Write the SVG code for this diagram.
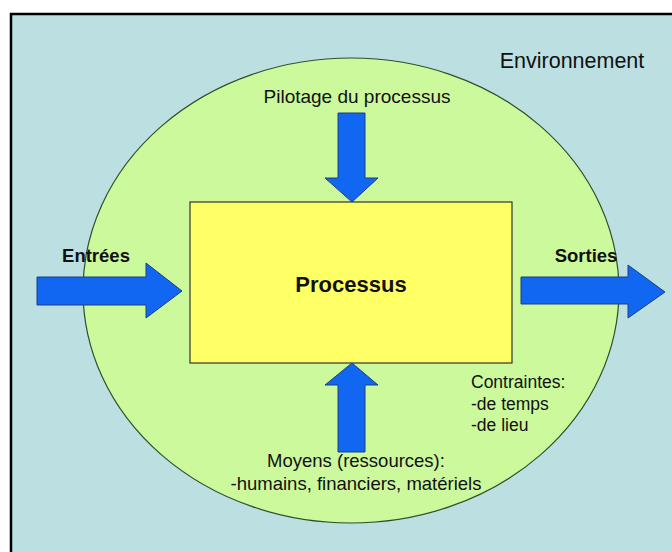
<svg xmlns="http://www.w3.org/2000/svg" width="672" height="552" viewBox="0 0 672 552">
<style>
.arrow{fill:#1166F2;stroke:#1E3E80;stroke-width:1}
.t{font-family:"Liberation Sans",Arial,sans-serif;fill:#111}
.b{font-weight:bold}
</style>
<rect x="0" y="0" width="672" height="552" fill="#ffffff"/>
<g id="environnement">
<rect x="11" y="14" width="670" height="550" fill="#BCE0E2" stroke="#000" stroke-width="2.5"/>
<text class="t" x="572" y="68" font-size="21.5" text-anchor="middle">Environnement</text>
</g>
<g id="systeme">
<ellipse cx="351" cy="290.5" rx="268" ry="232.5" fill="#CCF99C" stroke="#2F4F2A" stroke-width="1.2"/>
</g>
<g id="processus">
<rect x="190" y="202" width="322" height="161" fill="#FFFF66" stroke="#333" stroke-width="1.2"/>
<text class="t b" x="351" y="292" font-size="22" text-anchor="middle">Processus</text>
</g>
<g id="connectors">
<polygon class="arrow" points="338,113 365,113 365,178 378,178 352,202 325,178 338,178"/>
<polygon class="arrow" points="338,452 365,452 365,385 378,385 352,363 325,385 338,385"/>
<polygon class="arrow" points="37,277 146,277 146,263 182,291 146,318 146,305 37,305"/>
<polygon class="arrow" points="521,277 628,277 628,265 665,292 628,318 628,304 521,304"/>
</g>
<g id="pilotage">
<text class="t" x="357" y="103" font-size="19" text-anchor="middle">Pilotage du processus</text>
</g>
<g id="entrees">
<text class="t b" x="96" y="262" font-size="18.5" text-anchor="middle">Entrées</text>
</g>
<g id="sorties">
<text class="t b" x="586" y="262" font-size="18.5" text-anchor="middle">Sorties</text>
</g>
<g id="moyens">
<text class="t" x="356" y="467" font-size="18.5" text-anchor="middle">Moyens (ressources):</text>
<text class="t" x="356" y="490" font-size="18.5" text-anchor="middle">-humains, financiers, matériels</text>
</g>
<g id="contraintes">
<text class="t" font-size="17.5"><tspan x="471" y="388">Contraintes:</tspan><tspan x="471" y="410">-de temps</tspan><tspan x="471" y="431">-de lieu</tspan></text>
</g>
</svg>
